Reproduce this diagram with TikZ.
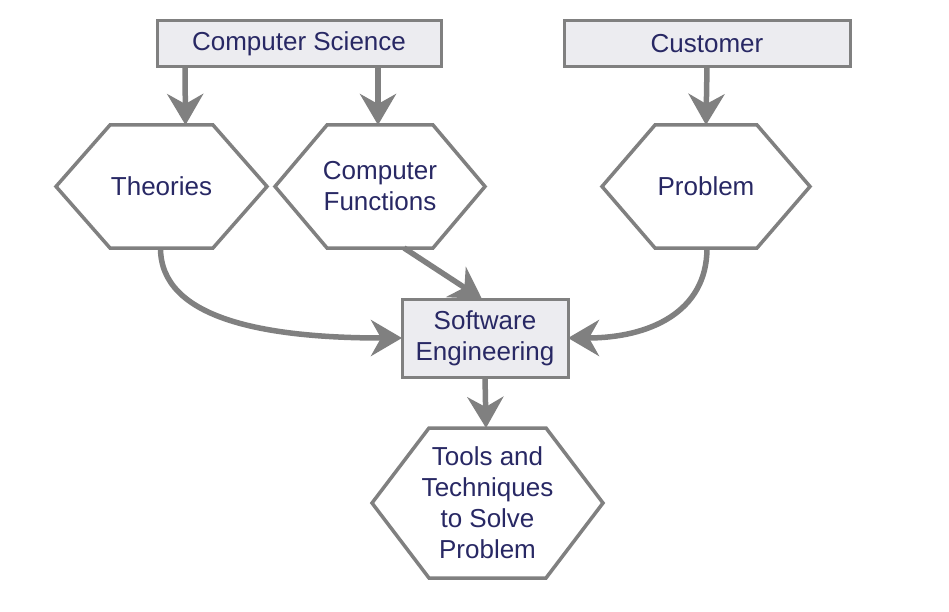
\documentclass[tikz,border=0pt]{standalone}
\usepackage{fontspec}
\setmainfont{Liberation Sans}
\usetikzlibrary{arrows.meta}
\definecolor{edgegray}{RGB}{128,128,128}
\definecolor{boxfill}{RGB}{236,236,240}
\definecolor{txtblue}{RGB}{40,40,100}
\tikzset{
  lbl/.style={text=txtblue, font=\fontsize{26}{31}\selectfont, align=center, inner sep=0pt, outer sep=0pt},
  boxnode/.style={lbl, draw=edgegray, line width=3pt, fill=boxfill},
  hexnode/.style={lbl, draw=none},
  hexline/.style={draw=edgegray, line width=3.5pt, line join=miter, fill=white},
  conn/.style={draw=edgegray, line width=5.5pt, -{Stealth[length=31pt, width=36pt, inset=10pt]}},
}
\newcommand{\hexdraw}[2]{%
  \draw[hexline] (#1.west) -- ([xshift=#2]#1.north west) -- ([xshift=-#2]#1.north east)
    -- (#1.east) -- ([xshift=-#2]#1.south east) -- ([xshift=#2]#1.south west) -- cycle;}
\begin{document}
\begin{tikzpicture}[x=1pt,y=-1pt]
\useasboundingbox[fill=white] (0,0) rectangle (949,612);
% boxes
\node[boxnode, minimum width=284pt, minimum height=46pt] (cs) at (299,44) {Computer Science};
\node[boxnode, minimum width=286pt, minimum height=46pt] (cust) at (707,44) {Customer};
\node[boxnode, minimum width=166pt, minimum height=78pt] (se) at (485,338) {Software\\Engineering};
% hexagons
\node[hexnode, minimum width=211pt, minimum height=123pt] (theo) at (161.5,186.5) {};
\node[hexnode, minimum width=210pt, minimum height=123pt] (cf) at (380,186.5) {};
\node[hexnode, minimum width=208pt, minimum height=123pt] (prob) at (706,186.5) {};
\node[hexnode, minimum width=231pt, minimum height=150pt] (tools) at (487.5,503) {};
\hexdraw{theo}{54pt}
\hexdraw{cf}{52pt}
\hexdraw{prob}{53pt}
\hexdraw{tools}{57pt}
\node[lbl] (theoT) at (theo) {Theories};
\node[lbl] (cfT) at (cf) {Computer\\Functions};
\node[lbl] (probT) at (prob) {Problem};
\node[lbl] (toolsT) at (tools) {Tools and\\Techniques\\to Solve\\Problem};
% connectors
\draw[conn] ([xshift=-114pt]cs.south) -- ([xshift=24pt]theo.north);
\draw[conn] ([xshift=79pt]cs.south) -- ([xshift=-2pt]cf.north);
\draw[conn] (cust.south) -- (prob.north);
\draw[conn] (se.south) -- ([xshift=-1.5pt]tools.north);
\draw[conn] ([xshift=24pt]cf.south) -- ([xshift=-3pt]se.north);
\draw[conn] ([xshift=-1pt]theo.south) .. controls +(0,70) and +(-140,0) .. (se.west);
\draw[conn] ([xshift=1pt]prob.south) .. controls +(0,65) and +(80,0) .. (se.east);
\end{tikzpicture}
\end{document}
